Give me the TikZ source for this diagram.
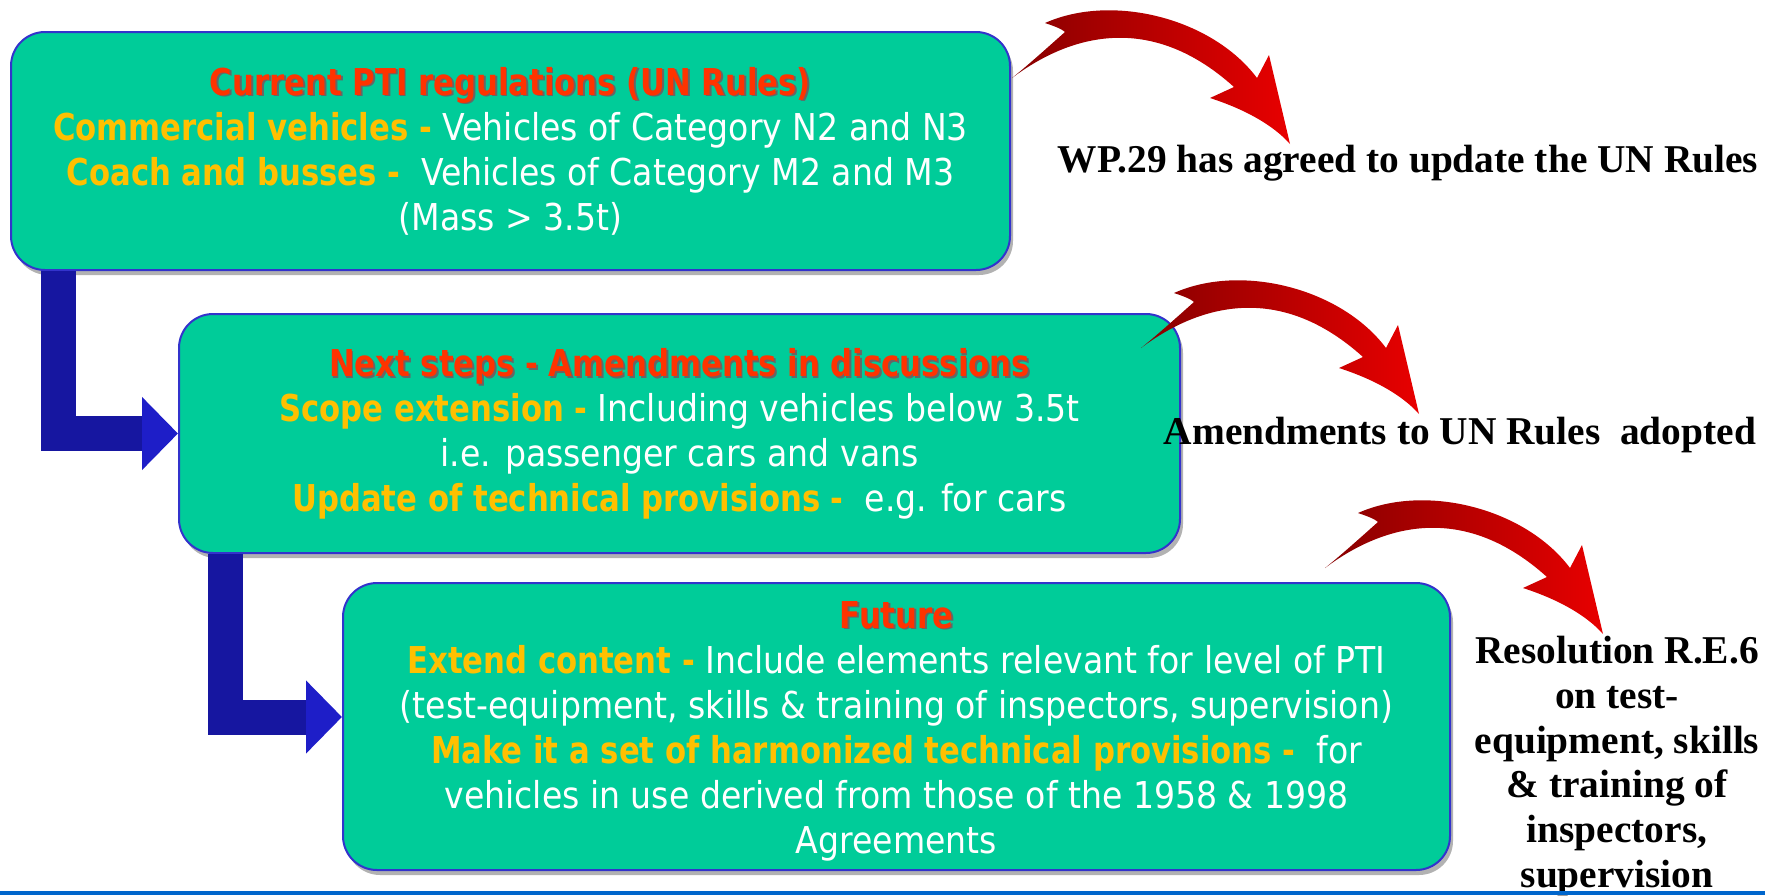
\documentclass[tikz,border=0pt]{standalone}
\usepackage{fontspec}
\setmainfont{DejaVu Sans}[FakeStretch=0.895, BoldFeatures={FakeStretch=0.83}]
\newfontfamily\noteface{Liberation Serif}
\usepackage{tikz}
\usetikzlibrary{arrows.meta,calc,shadows}
\definecolor{boxc}{RGB}{0,204,153}
\definecolor{edgec}{RGB}{51,51,204}
\definecolor{titlec}{RGB}{255,51,0}
\definecolor{keyc}{RGB}{255,192,0}
\definecolor{flowc}{RGB}{22,22,160}
\definecolor{headc}{RGB}{30,30,200}
\definecolor{darkred}{RGB}{135,0,0}
\definecolor{brightred}{RGB}{232,0,0}
\definecolor{rulec}{RGB}{0,102,204}
\newcommand\boxtitle[1]{{\bfseries\rlap{\kern0.9pt\raisebox{-0.9pt}{\color{black!60}#1}}\color{titlec}#1}}
\newcommand\key[1]{{\bfseries\color{keyc}#1}}
\tikzstyle{stagebox} = [
  draw=edgec,
  line width=1pt,
  fill=boxc,
  rounded corners=17pt,
  align=center,
  inner sep=0pt,
  text=white,
  font=\fontsize{18.5}{22.5}\selectfont,
  drop shadow={shadow xshift=1.5pt, shadow yshift=-2.5pt, fill=black, opacity=0.3},
]
\tikzstyle{flowline} = [
  draw=flowc,
  line width=17.5pt,
  line join=miter,
  -{Triangle[width=35.5pt,length=18pt,color=headc]},
]
\tikzstyle{notetext} = [
  font=\noteface\bfseries\fontsize{19.7}{22.35}\selectfont,
  align=center,
  inner sep=0pt,
]
\tikzset{curvearrow/.pic={
  \shade[left color=darkred, right color=brightred]
    (0,0) .. controls (60,-45) and (140,-65) .. (222,9)
    -- (198,20) .. controls (235,32) and (262,48) .. (278,66)
    -- (257,-23) -- (245,0)
    .. controls (200,-60) and (100,-85) .. (33,-55)
    .. controls (42,-52) and (50,-49) .. (53,-46)
    .. controls (35,-30) and (15,-12) .. (0,0) -- cycle;
}}

\begin{document}
\begin{tikzpicture}[x=0.5pt, y=-0.5pt]
  \useasboundingbox (0,0) rectangle (1779,895);

  % Stages
  \node[stagebox, minimum width=499.5pt, minimum height=119pt] (current) at (510.5,151)
    {\boxtitle{Current PTI regulations (UN Rules)}\\
     \key{Commercial vehicles -} Vehicles of Category N2 and N3\\
     \key{Coach and busses -} \ Vehicles of Category M2 and M3\\
     (Mass > 3.5t)};
  \node[stagebox, minimum width=500.5pt, minimum height=119.5pt] (next) at (679.5,433.5)
    {\boxtitle{Next steps - Amendments in discussions}\\
     \key{Scope extension -} Including vehicles below 3.5t\\
     i.e. passenger cars and vans\\
     \key{Update of technical provisions -} \ e.g. for cars};
  \node[stagebox, minimum width=553.5pt, minimum height=143.5pt] (future) at (896.5,726.5)
    {\rule{0pt}{18pt}\boxtitle{Future}\\
     \key{Extend content -} Include elements relevant for level of PTI\\
     (test-equipment, skills \& training of inspectors, supervision)\\
     \key{Make it a set of harmonized technical provisions -} \ for\\
     vehicles in use derived from those of the 1958 \& 1998\\
     Agreements};

  % Flow between stages
  \draw[flowline] ($(current.south west)+(48.5,0)$) |- (next.west);
  \draw[flowline] ($(next.south west)+(47.5,0)$) |- ($(future.west)+(0,-9.5)$);

  % Outcomes
  \pic at (1012,78) {curvearrow};
  \pic at (1141,348) {curvearrow};
  \pic at (1325,568) {curvearrow};

  \node[notetext] (wp) at (1408,163) {WP.29 has agreed to update the UN Rules};
  \node[notetext] (adopted) at (1460,435) {Amendments to UN Rules \ adopted};
  \node[notetext] (resolution) at (1617,766)
    {Resolution R.E.6\\ on test-\\ equipment, skills\\ \& training of\\ inspectors,\\ supervision};

  % Bottom rule
  \fill[rulec] (0,891) rectangle (1765,895);
\end{tikzpicture}
\end{document}
